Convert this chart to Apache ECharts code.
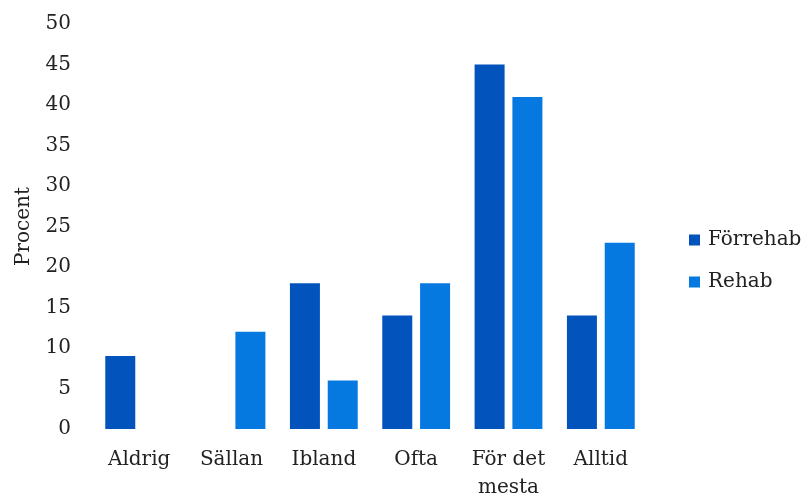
<!DOCTYPE html>
<html>
<head>
<meta charset="utf-8">
<script src="https://cdn.jsdelivr.net/npm/echarts@6/dist/echarts.min.js"></script>
<style>html,body{margin:0;padding:0;background:#fff;overflow:hidden}#c{width:806px;height:502px}</style>
</head>
<body>
<div id="c"></div>
<script>
var categories = ['Aldrig', 'Sällan', 'Ibland', 'Ofta', 'För det\nmesta', 'Alltid'];
var forrehab = [9, 0, 18, 14, 45, 14];
var rehab = [0, 12, 6, 18, 41, 23];
var seriesNames = ['Förrehab', 'Rehab'];

var font = 'DejaVu Serif';
var chart = echarts.init(document.getElementById('c'));
chart.setOption({
  animation: false,
  backgroundColor: '#fff',
  textStyle: { fontFamily: font },
  grid: { left: 93, right: 159, top: 24, bottom: 66, containLabel: false },
  legend: {
    orient: 'vertical',
    left: 689,
    top: 230,
    padding: 0,
    itemWidth: 11,
    itemHeight: 11,
    itemGap: 22,
    icon: 'rect',
    textStyle: { fontFamily: font, fontSize: 20, color: '#222', padding: [0, 0, 0, 3] },
    data: seriesNames
  },
  xAxis: {
    type: 'category',
    data: categories,
    axisLine: { show: false },
    axisTick: { show: false },
    axisLabel: { interval: 0, fontFamily: font, fontSize: 20, color: '#222', margin: 17, lineHeight: 28 }
  },
  yAxis: {
    type: 'value',
    min: 0, max: 50, interval: 5,
    name: 'Procent',
    nameLocation: 'middle',
    nameGap: 59,
    nameTextStyle: { fontFamily: font, fontSize: 20, color: '#222' },
    axisLine: { show: false },
    axisTick: { show: false },
    splitLine: { show: false },
    axisLabel: { fontFamily: font, fontSize: 20, color: '#222', margin: 22, padding: [6, 0, 0, 0] }
  },
  series: [
    { name: seriesNames[0], type: 'bar', data: forrehab, barWidth: 30, barGap: '26%', itemStyle: { color: '#0353BD' } },
    { name: seriesNames[1], type: 'bar', data: rehab, barWidth: 30, itemStyle: { color: '#0579E0' } }
  ]
});
</script>
</body>
</html>
